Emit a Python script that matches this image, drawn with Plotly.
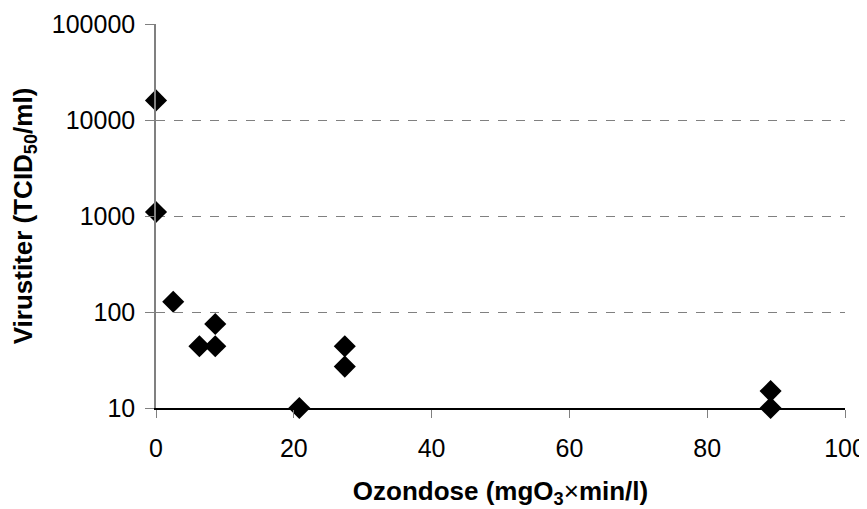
import plotly.graph_objects as go

ozondose = [0, 0, 2.5, 6.3, 8.6, 8.6, 20.8, 27.4, 27.4, 89.2, 89.2]
virustiter = [16000, 1100, 128, 44, 44, 75, 10, 44, 27, 15, 10]

y_tickvals = [10, 100, 1000, 10000, 100000]
y_ticktext = ["10", "100", "1000", "10000", "100000"]
x_tickvals = [0, 20, 40, 60, 80, 100]

fig = go.Figure()
fig.add_trace(go.Scatter(
    x=ozondose, y=virustiter, mode="markers",
    marker=dict(symbol="diamond", size=17, color="black"),
    cliponaxis=False, showlegend=False,
))

font = dict(family="Liberation Sans, Arial, sans-serif", size=25, color="black")

# page body adds an 8px offset, so the figure is sized 8px smaller
fig.update_layout(
    width=859, height=501,
    margin=dict(l=148, r=22, t=16, b=101),
    paper_bgcolor="white", plot_bgcolor="white",
    font=font,
    xaxis=dict(
        range=[0, 100], tickvals=x_tickvals,
        showgrid=False, zeroline=False, automargin=False,
        showline=True, linecolor="black", linewidth=1.5,
        ticks="outside", ticklen=8, tickcolor="#808080",
        ticklabelstandoff=9,
        title=dict(text="<b>Ozondose (mgO<sub>3</sub></b>×<b>min/l)</b>", standoff=27,
                   font=dict(size=26)),
    ),
    yaxis=dict(
        type="log", range=[1, 5], tickvals=y_tickvals, ticktext=y_ticktext,
        showgrid=True, gridcolor="#808080", griddash="dash", gridwidth=1,
        zeroline=False, automargin=False,
        showline=True, linecolor="#808080", linewidth=1.5,
        ticks="outside", ticklen=9, tickcolor="#808080",
        ticklabelstandoff=5,
        title=dict(text="<b>Virustiter (TCID<sub>50</sub>/ml)</b>", standoff=14,
                   font=dict(size=26)),
    ),
)

fig.write_html("out.html")
